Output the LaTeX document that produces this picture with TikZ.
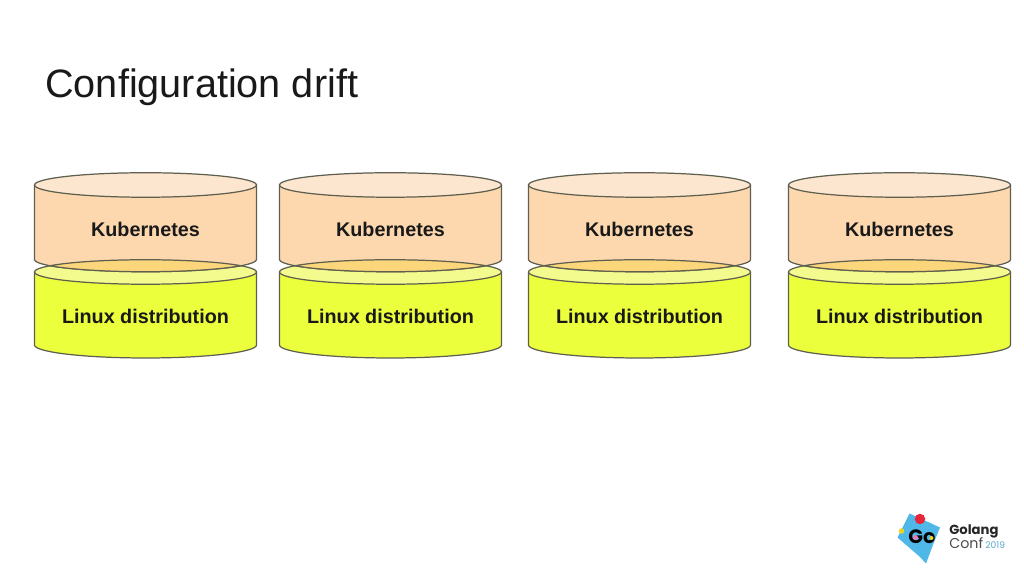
\documentclass[tikz,border=0pt]{standalone}
\usepackage{fontspec}
\setmainfont{Liberation Sans}
\newfontfamily\logofont{Poppins}
\definecolor{kubebody}{HTML}{FDD8AE}
\definecolor{kubetop}{HTML}{FDE6CF}
\definecolor{linuxbody}{HTML}{ECFF3C}
\definecolor{linuxtop}{HTML}{F4FB8E}
\definecolor{lens}{HTML}{FBD67A}
\definecolor{edge}{HTML}{5F5F50}
\definecolor{logoblue}{HTML}{4FB8E8}
\definecolor{logored}{HTML}{E8263A}
\definecolor{logoyellow}{HTML}{F6D21F}
\definecolor{logopink}{HTML}{E77FB3}
\tikzset{
  can/.style={draw=edge,line width=0.7pt},
  canlabel/.style={anchor=base,font=\fontsize{11.25}{13}\selectfont\bfseries,text=black!90,inner sep=0pt},
}
\begin{document}
\begin{tikzpicture}
\useasboundingbox (0,0) rectangle (20.48,11.52);
\fill[white] (0,0) rectangle (20.48,11.52);
\node[anchor=base west,inner sep=0pt,text=black!90,font=\fontsize{22.55}{27}\selectfont] (title) at (0.9,9.56) {Configuration drift};

\begin{scope}[shift={(2.91,0)}]
\draw[can,fill=linuxbody] (-2.22,6.08) -- (-2.22,4.62) arc[start angle=180,end angle=360,x radius=2.22,y radius=0.26] -- (2.22,6.08);
\draw[can,fill=linuxtop] (0,6.08) ellipse (2.22 and 0.245);
\draw[can,fill=kubebody] (-2.22,7.82) -- (-2.22,6.33) arc[start angle=180,end angle=360,x radius=2.22,y radius=0.245] -- (2.22,7.82);
\draw[can,fill=kubetop] (0,7.82) ellipse (2.22 and 0.245);
\draw[can,fill=lens] (-1.91,6.205) arc[start angle=210.7,end angle=329.3,x radius=2.22,y radius=0.245] arc[start angle=30.7,end angle=149.3,x radius=2.22,y radius=0.245] -- cycle;
\node[canlabel] (kube1) at (0,6.78) {Kubernetes};
\node[canlabel] (linux1) at (0,5.04) {Linux distribution};
\end{scope}

\begin{scope}[shift={(7.81,0)}]
\draw[can,fill=linuxbody] (-2.22,6.08) -- (-2.22,4.62) arc[start angle=180,end angle=360,x radius=2.22,y radius=0.26] -- (2.22,6.08);
\draw[can,fill=linuxtop] (0,6.08) ellipse (2.22 and 0.245);
\draw[can,fill=kubebody] (-2.22,7.82) -- (-2.22,6.33) arc[start angle=180,end angle=360,x radius=2.22,y radius=0.245] -- (2.22,7.82);
\draw[can,fill=kubetop] (0,7.82) ellipse (2.22 and 0.245);
\draw[can,fill=lens] (-1.91,6.205) arc[start angle=210.7,end angle=329.3,x radius=2.22,y radius=0.245] arc[start angle=30.7,end angle=149.3,x radius=2.22,y radius=0.245] -- cycle;
\node[canlabel] (kube2) at (0,6.78) {Kubernetes};
\node[canlabel] (linux2) at (0,5.04) {Linux distribution};
\end{scope}

\begin{scope}[shift={(12.79,0)}]
\draw[can,fill=linuxbody] (-2.22,6.08) -- (-2.22,4.62) arc[start angle=180,end angle=360,x radius=2.22,y radius=0.26] -- (2.22,6.08);
\draw[can,fill=linuxtop] (0,6.08) ellipse (2.22 and 0.245);
\draw[can,fill=kubebody] (-2.22,7.82) -- (-2.22,6.33) arc[start angle=180,end angle=360,x radius=2.22,y radius=0.245] -- (2.22,7.82);
\draw[can,fill=kubetop] (0,7.82) ellipse (2.22 and 0.245);
\draw[can,fill=lens] (-1.91,6.205) arc[start angle=210.7,end angle=329.3,x radius=2.22,y radius=0.245] arc[start angle=30.7,end angle=149.3,x radius=2.22,y radius=0.245] -- cycle;
\node[canlabel] (kube3) at (0,6.78) {Kubernetes};
\node[canlabel] (linux3) at (0,5.04) {Linux distribution};
\end{scope}

\begin{scope}[shift={(17.99,0)}]
\draw[can,fill=linuxbody] (-2.22,6.08) -- (-2.22,4.62) arc[start angle=180,end angle=360,x radius=2.22,y radius=0.26] -- (2.22,6.08);
\draw[can,fill=linuxtop] (0,6.08) ellipse (2.22 and 0.245);
\draw[can,fill=kubebody] (-2.22,7.82) -- (-2.22,6.33) arc[start angle=180,end angle=360,x radius=2.22,y radius=0.245] -- (2.22,7.82);
\draw[can,fill=kubetop] (0,7.82) ellipse (2.22 and 0.245);
\draw[can,fill=lens] (-1.91,6.205) arc[start angle=210.7,end angle=329.3,x radius=2.22,y radius=0.245] arc[start angle=30.7,end angle=149.3,x radius=2.22,y radius=0.245] -- cycle;
\node[canlabel] (kube4) at (0,6.78) {Kubernetes};
\node[canlabel] (linux4) at (0,5.04) {Linux distribution};
\end{scope}

% logo
\fill[logoblue] (18.19,1.25) -- (18.80,0.97) -- (18.67,0.65) -- (18.52,0.25) -- (18.39,0.39) -- (17.95,0.77) -- cycle;
\fill[logored] (18.40,1.14) circle (0.105);
\fill[logoyellow] (18.03,0.90) circle (0.055);
\node[anchor=base,inner sep=0pt,font=\logofont\bfseries\fontsize{11}{12}\selectfont] (logogo) at (18.44,0.65) {Go};
\fill[logopink] (18.31,0.77) circle (0.05);
\fill[logoyellow] (18.63,0.76) circle (0.04);
\node[anchor=base west,inner sep=0pt,font=\logofont\bfseries\fontsize{7.5}{8}\selectfont,text=black!85] (golang) at (18.98,0.83) {Golang};
\node[anchor=base west,inner sep=0pt,font=\logofont\fontsize{8.1}{9}\selectfont,text=black!70] (conf) at (18.98,0.54) {Conf};
\node[anchor=base west,inner sep=0pt,font=\logofont\fontsize{5.2}{6}\selectfont,text=logoblue!70!gray] (year) at (19.70,0.54) {2019};
\end{tikzpicture}
\end{document}
